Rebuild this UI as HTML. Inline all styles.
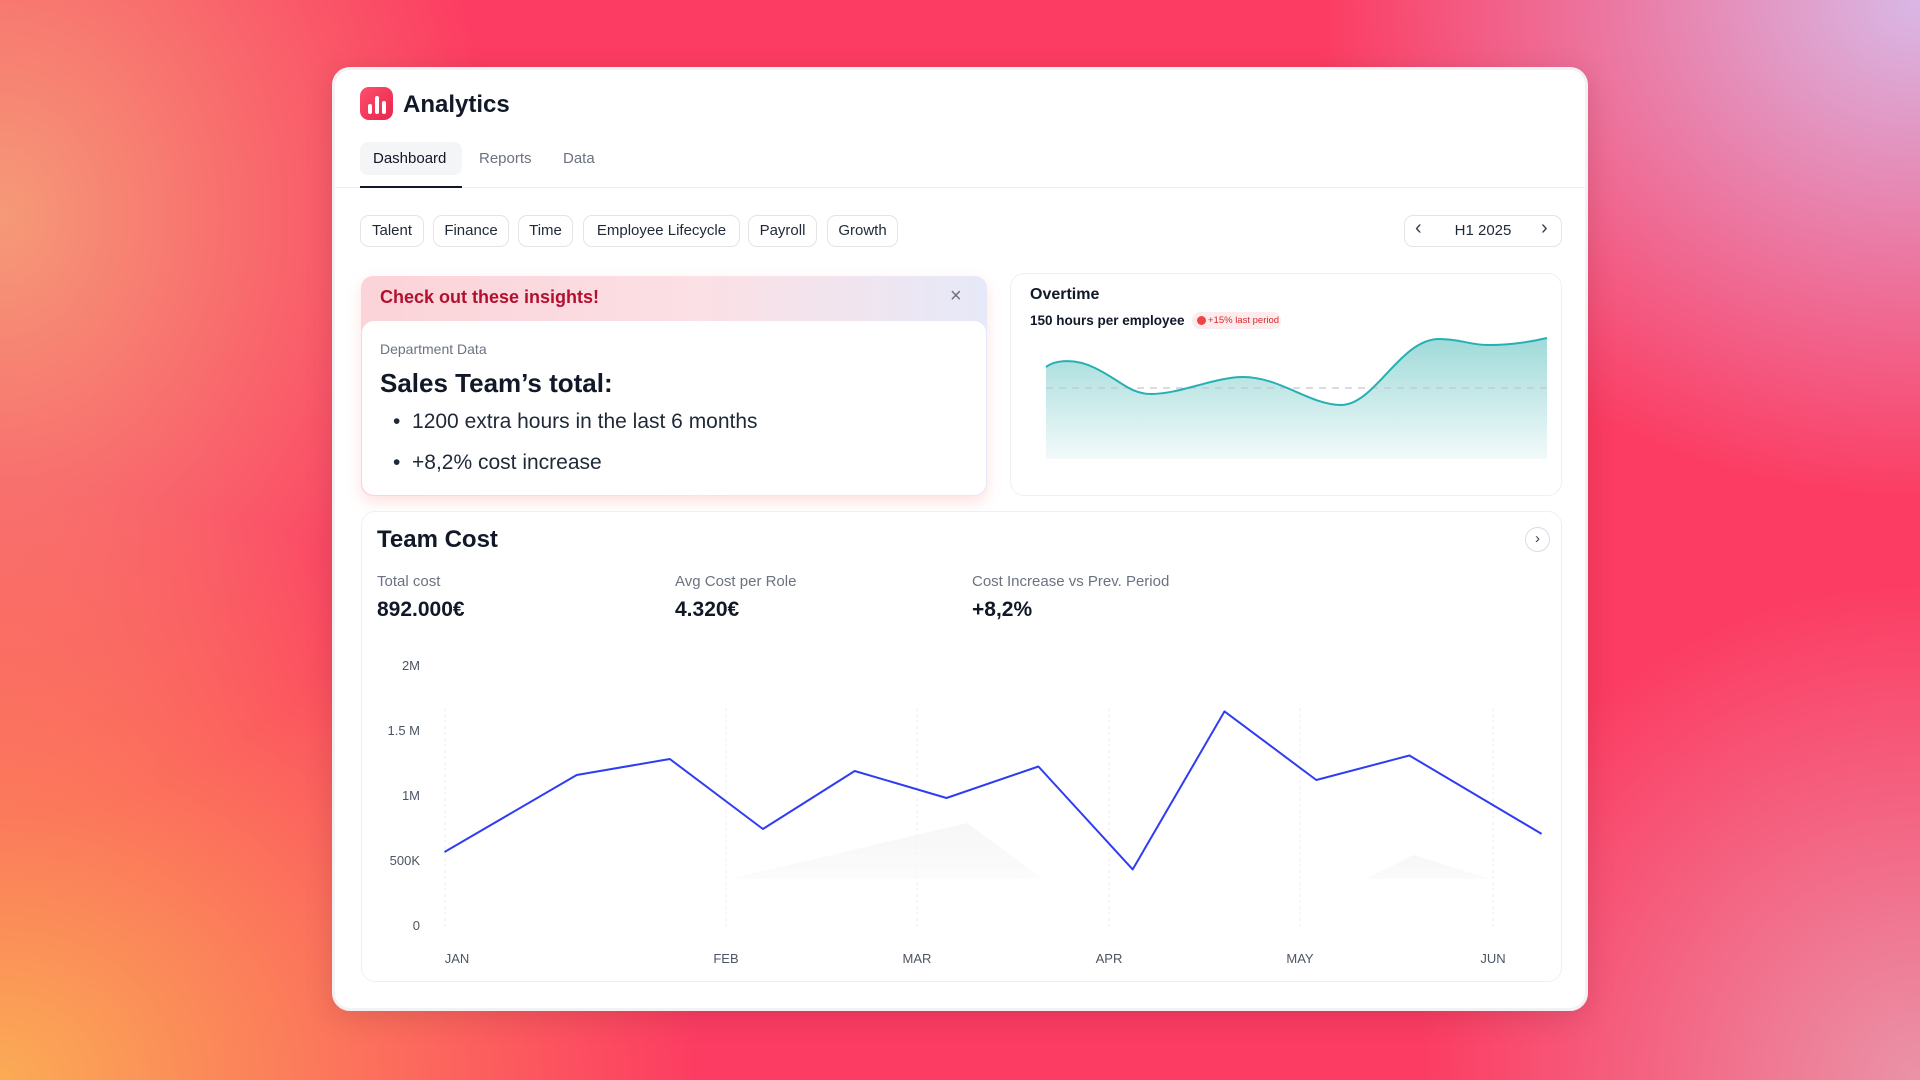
<!DOCTYPE html>
<html><head><meta charset="utf-8"><style>
*{margin:0;padding:0;box-sizing:border-box}
body{width:1920px;height:1080px;overflow:hidden;position:relative;font-family:"Liberation Sans",sans-serif;color:#111827;
background:
radial-gradient(ellipse 700px 600px at 0% 100%,#fbab55 0%,rgba(251,171,85,0) 100%),
radial-gradient(ellipse 600px 500px at 100% 0%,#d9b8e6 0%,rgba(217,184,230,0) 100%),
radial-gradient(ellipse 500px 600px at 0% 20%,#f59a78 0%,rgba(245,154,120,0) 100%),
radial-gradient(ellipse 500px 500px at 100% 100%,#ea93a8 0%,rgba(234,147,168,0) 100%),
#fc3c62}
.a{position:absolute}
.card{position:absolute;left:332px;top:67px;width:1256px;height:944px;background:#fff;border-radius:18px;border:3px solid #f2f2f4;box-shadow:0 6px 30px rgba(0,0,0,.12)}
.chip{position:absolute;top:214px;height:32px;border:1px solid #e2e4e8;border-radius:9px;font-size:15px;line-height:30px;text-align:center;color:#1f2937}
.t{position:absolute;white-space:nowrap}
</style></head><body>
<div class="card"></div>
<div class="a" style="left:360px;top:87px;width:33px;height:33px;border-radius:9px;background:linear-gradient(135deg,#ff4f6d,#e8254b)"></div>
<div class="a" style="left:368px;top:104px;width:4px;height:10px;background:#fff;border-radius:2px"></div>
<div class="a" style="left:375px;top:96px;width:4px;height:18px;background:#fff;border-radius:2px"></div>
<div class="a" style="left:382px;top:101px;width:4px;height:13px;background:#fff;border-radius:2px"></div>
<div class="t" style="left:403px;top:91px;font-size:24px;font-weight:600">Analytics</div>
<div class="a" style="left:360px;top:142px;width:102px;height:33px;background:#f3f5f7;border-radius:8px"></div>
<div class="t" style="left:373px;top:150px;font-size:15px;color:#111827">Dashboard</div>
<div class="t" style="left:479px;top:150px;font-size:15px;color:#6b7280">Reports</div>
<div class="t" style="left:563px;top:150px;font-size:15px;color:#6b7280">Data</div>
<div class="a" style="left:335px;top:187px;width:1250px;height:1px;background:#eceef1"></div>
<div class="a" style="left:360px;top:186px;width:102px;height:2px;background:#111827"></div>
<div class="chip" style="left:360px;width:64px;top:215px">Talent</div>
<div class="chip" style="left:433px;width:76px;top:215px">Finance</div>
<div class="chip" style="left:518px;width:55px;top:215px">Time</div>
<div class="chip" style="left:583px;width:157px;top:215px">Employee Lifecycle</div>
<div class="chip" style="left:748px;width:69px;top:215px">Payroll</div>
<div class="chip" style="left:827px;width:71px;top:215px">Growth</div>
<div class="chip" style="left:1404px;width:158px;top:215px;font-size:15px">H1 2025</div>
<div class="t" style="left:1415px;top:217px;font-size:20px;color:#374151">‹</div>
<div class="t" style="left:1541px;top:217px;font-size:20px;color:#374151">›</div>

<!-- insight card -->
<div class="a" style="left:361px;top:276px;width:626px;height:220px;border-radius:12px;background:linear-gradient(90deg,#fbd3d8 0%,#fbe0e5 55%,#e6e9f8 100%);box-shadow:0 6px 14px rgba(250,140,130,.25)"></div>
<div class="t" style="left:380px;top:287px;font-size:18px;font-weight:700;color:#b3102f">Check out these insights!</div>
<div class="t" style="left:950px;top:285px;font-size:20px;color:#6b7280">×</div>
<div class="a" style="left:362px;top:321px;width:624px;height:174px;background:#fff;border-radius:12px"></div>
<div class="t" style="left:380px;top:341px;font-size:14px;color:#6b7280">Department Data</div>
<div class="t" style="left:380px;top:368px;font-size:26px;font-weight:700">Sales Team’s total:</div>
<div class="t" style="left:393px;top:410px;font-size:21px;color:#1f2937">•&nbsp; 1200 extra hours in the last 6 months</div>
<div class="t" style="left:393px;top:451px;font-size:21px;color:#1f2937">•&nbsp; +8,2% cost increase</div>

<!-- overtime -->
<div class="a" style="left:1010px;top:273px;width:552px;height:223px;border:1px solid #eef0f2;border-radius:14px;background:#fff"></div>
<div class="t" style="left:1030px;top:286px;font-size:16px;font-weight:600">Overtime</div>
<div class="t" style="left:1030px;top:313px;font-size:13.5px;font-weight:600">150 hours per employee</div>
<div class="a" style="left:1192px;top:312px;width:89px;height:17px;border-radius:8px;background:#fdecee"></div>
<div class="a" style="left:1197px;top:316px;width:9px;height:9px;border-radius:50%;background:#ef4444"></div>
<div class="t" style="left:1208px;top:315px;font-size:9.5px;color:#dc2626">+15% last period</div>

<svg class="a" style="left:0;top:0" width="1920" height="1080">
<defs><linearGradient id="g" x1="0" y1="0" x2="0" y2="1"><stop offset="0" stop-color="#9fdad9"/><stop offset="1" stop-color="#f2fafa"/></linearGradient>
<linearGradient id="p" x1="0" y1="0" x2="0" y2="1"><stop offset="0" stop-color="#f3f3f5"/><stop offset="1" stop-color="#fafafb"/></linearGradient></defs>
<path d="M1046 367 C1055 360 1075 358 1095 368 C1120 380 1130 394 1151 394 C1180 394 1215 377 1243 377 C1280 377 1310 405 1341 405 C1375 405 1400 339 1439 339 C1460 339 1470 345 1488 345 C1510 345 1530 342 1547 338 L1547 459 L1046 459 Z" fill="url(#g)"/>
<line x1="1046" y1="388" x2="1547" y2="388" stroke="#c9c3d3" stroke-width="1.3" stroke-dasharray="7 6"/>
<path d="M1046 367 C1055 360 1075 358 1095 368 C1120 380 1130 394 1151 394 C1180 394 1215 377 1243 377 C1280 377 1310 405 1341 405 C1375 405 1400 339 1439 339 C1460 339 1470 345 1488 345 C1510 345 1530 342 1547 338" fill="none" stroke="#27b0b3" stroke-width="2"/>
</svg>

<!-- team cost -->
<div class="a" style="left:361px;top:511px;width:1201px;height:471px;border:1px solid #eef0f2;border-radius:14px;background:#fff"></div>
<div class="t" style="left:377px;top:526px;font-size:24px;font-weight:700">Team Cost</div>
<div class="a" style="left:1525px;top:527px;width:25px;height:25px;border:1px solid #d9dce1;border-radius:50%;font-size:15px;text-align:center;line-height:22px;color:#374151">›</div>
<div class="t" style="left:377px;top:573px;font-size:15px;color:#6b7280">Total cost</div>
<div class="t" style="left:675px;top:573px;font-size:15px;color:#6b7280">Avg Cost per Role</div>
<div class="t" style="left:972px;top:573px;font-size:15px;color:#6b7280">Cost Increase vs Prev. Period</div>
<div class="t" style="left:377px;top:598px;font-size:21px;font-weight:700">892.000€</div>
<div class="t" style="left:675px;top:598px;font-size:21px;font-weight:700">4.320€</div>
<div class="t" style="left:972px;top:598px;font-size:21px;font-weight:700">+8,2%</div>

<svg class="a" style="left:0;top:0" width="1920" height="1080" font-family="Liberation Sans, sans-serif" font-size="13" fill="#4b5563">
<g stroke="#eceef0" stroke-width="1" stroke-dasharray="3 3">
<line x1="445" y1="708" x2="445" y2="928"/><line x1="726" y1="708" x2="726" y2="928"/><line x1="917" y1="708" x2="917" y2="928"/><line x1="1109" y1="708" x2="1109" y2="928"/><line x1="1300" y1="708" x2="1300" y2="928"/><line x1="1493" y1="708" x2="1493" y2="928"/>
</g>
<polygon points="729,879 967,823 1043,879" fill="url(#p)" opacity="0.7"/>
<polygon points="1365,879 1414,855 1491,879" fill="url(#p)" opacity="0.7"/>
<g text-anchor="end"><text x="420" y="670">2M</text><text x="420" y="735">1.5 M</text><text x="420" y="800">1M</text><text x="420" y="865">500K</text><text x="420" y="930">0</text></g>
<g text-anchor="middle"><text x="457" y="963">JAN</text><text x="726" y="963">FEB</text><text x="917" y="963">MAR</text><text x="1109" y="963">APR</text><text x="1300" y="963">MAY</text><text x="1493" y="963">JUN</text></g>
<polyline fill="none" stroke="#2f3df2" stroke-width="2" stroke-linejoin="round" points="444.5,852 576.7,775 669.8,759 762.9,829 854.7,771 946.5,798 1038.4,766.5 1132.7,869.4 1224.5,711.4 1316.3,780 1409.4,755.5 1541.6,833.9"/>
</svg>
</body></html>
